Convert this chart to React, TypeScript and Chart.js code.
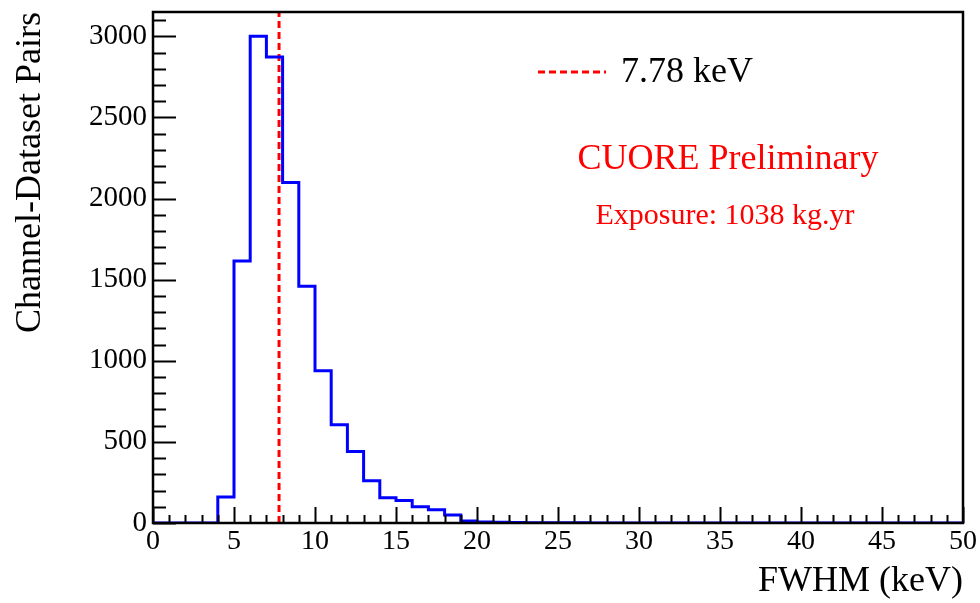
import { useEffect, useRef } from 'react';
import { Chart, registerables } from 'chart.js';

Chart.register(...registerables);

// Histogram: bin lower edges 0..49 (width 1 keV)
const binEdges = [0, 1, 2, 3, 4, 5, 6, 7, 8, 9, 10, 11, 12, 13, 14, 15, 16, 17, 18, 19, 20, 21, 22, 23, 24, 25, 26, 27, 28, 29, 30, 31, 32, 33, 34, 35, 36, 37, 38, 39, 40, 41, 42, 43, 44, 45, 46, 47, 48, 49];
const counts = [0, 0, 0, 0, 160, 1615, 3000, 2873, 2099, 1459, 938, 606, 441, 261, 155, 138, 100, 82, 50, 12, 6, 4, 3, 2, 1, 1, 1, 0, 0, 0, 0, 0, 0, 0, 0, 0, 0, 0, 0, 0, 0, 0, 0, 0, 0, 0, 0, 0, 0, 0];
const binWidth = 1;
const medianValue = 7.78;
const medianLabel = '7.78 keV';
const xMin = 0;
const xMax = 50;
const yMin = 0;
const yMax = 3150;
const xTickLabels = [0, 5, 10, 15, 20, 25, 30, 35, 40, 45, 50];
const yTickLabels = [0, 500, 1000, 1500, 2000, 2500, 3000];
const xMajorStep = 5;
const xMinorStep = 1;
const yMajorStep = 500;
const yMinorStep = 100;
const xTitle = 'FWHM (keV)';
const yTitle = 'Channel-Dataset Pairs';
const textMain = 'CUORE Preliminary';
const textSub = 'Exposure: 1038 kg.yr';

const SERIF = '"Liberation Serif", "Times New Roman", serif';

const framePlugin = {
  id: 'rootFrame',
  afterDatasetsDraw(chart: any) {
    const { ctx, chartArea: a, scales } = chart;
    const x = scales.x;
    const y = scales.y;
    ctx.save();
    ctx.strokeStyle = '#000';
    ctx.lineWidth = 2;
    ctx.setLineDash([]);
    ctx.beginPath();
    for (let v = xMin; v <= xMax + 1e-9; v += xMinorStep) {
      const px = Math.round(x.getPixelForValue(v)) + 0.5;
      const len = Math.abs(v % xMajorStep) < 1e-9 ? 16 : 8;
      ctx.moveTo(px, a.bottom);
      ctx.lineTo(px, a.bottom - len);
    }
    for (let v = yMin; v <= yMax + 1e-9; v += yMinorStep) {
      const py = Math.round(y.getPixelForValue(v)) + 0.5;
      const len = Math.abs(v % yMajorStep) < 1e-9 ? 23 : 13;
      ctx.moveTo(a.left, py);
      ctx.lineTo(a.left + len, py);
    }
    ctx.stroke();
    ctx.lineWidth = 2.5;
    ctx.strokeRect(a.left, a.top, a.right - a.left, a.bottom - a.top);

    // legend
    ctx.strokeStyle = '#ff0000';
    ctx.lineWidth = 3;
    ctx.setLineDash([7, 4]);
    ctx.beginPath();
    ctx.moveTo(538, 72);
    ctx.lineTo(606, 72);
    ctx.stroke();
    ctx.setLineDash([]);
    ctx.fillStyle = '#000';
    ctx.textAlign = 'left';
    ctx.textBaseline = 'alphabetic';
    ctx.font = `36px ${SERIF}`;
    ctx.fillText(medianLabel, 621, 82);

    ctx.fillStyle = '#ff0000';
    ctx.textAlign = 'center';
    ctx.font = `36px ${SERIF}`;
    ctx.fillText(textMain, 728, 169);
    ctx.font = `30px ${SERIF}`;
    ctx.fillText(textSub, 725, 224);
    ctx.restore();
  },
};

export default function App() {
  const ref = useRef<HTMLCanvasElement>(null);
  useEffect(() => {
    document.body.style.margin = '0';
    const histPoints = binEdges.map((e, i) => ({ x: e, y: counts[i] }));
    histPoints.push({ x: binEdges[binEdges.length - 1] + binWidth, y: counts[counts.length - 1] });
    const chart = new Chart(ref.current as HTMLCanvasElement, {
      type: 'line',
      data: {
        datasets: [
          {
            data: histPoints,
            stepped: 'before',
            borderColor: '#0000ff',
            borderWidth: 3,
            pointRadius: 0,
            fill: false,
          },
          {
            data: [
              { x: medianValue, y: yMin },
              { x: medianValue, y: yMax },
            ],
            borderColor: '#ff0000',
            borderWidth: 3,
            borderDash: [7, 4],
            pointRadius: 0,
            fill: false,
          },
        ],
      },
      options: {
        animation: false,
        responsive: true,
        maintainAspectRatio: false,
        layout: { padding: { left: 0, top: 12, right: 17, bottom: 0 } },
        plugins: { legend: { display: false }, tooltip: { enabled: false } },
        scales: {
          x: {
            type: 'linear',
            min: xMin,
            max: xMax,
            grid: { display: false, drawTicks: false },
            border: { display: false },
            afterBuildTicks(scale: any) {
              scale.ticks = xTickLabels.map((v) => ({ value: v }));
            },
            ticks: {
              autoSkip: false,
              maxRotation: 0,
              padding: 2,
              color: '#000',
              font: { family: SERIF, size: 28 },
              callback: (v: any) => String(v),
            },
            title: {
              display: true,
              text: xTitle,
              align: 'end',
              color: '#000',
              font: { family: SERIF, size: 36 },
              padding: { top: 0, bottom: 0 },
            },
            afterFit(scale: any) {
              scale.height = 80;
              scale.paddingLeft = 0;
              scale.paddingRight = 0;
            },
          },
          y: {
            type: 'linear',
            min: yMin,
            max: yMax,
            grid: { display: false, drawTicks: false },
            border: { display: false },
            afterBuildTicks(scale: any) {
              scale.ticks = yTickLabels.map((v) => ({ value: v }));
            },
            ticks: {
              autoSkip: false,
              padding: 6,
              color: '#000',
              font: { family: SERIF, size: 29 },
              callback: (v: any) => String(v),
            },
            title: {
              display: true,
              text: yTitle,
              align: 'end',
              color: '#000',
              font: { family: SERIF, size: 36 },
              padding: { top: 9, bottom: 0 },
            },
            afterFit(scale: any) {
              scale.width = 153;
              scale.paddingTop = 0;
              scale.paddingBottom = 0;
            },
          },
        },
      },
      plugins: [framePlugin],
    });
    return () => chart.destroy();
  }, []);
  return (
    <div style={{ position: 'absolute', left: 0, top: 0, width: 980, height: 603 }}>
      <canvas ref={ref} />
    </div>
  );
}
